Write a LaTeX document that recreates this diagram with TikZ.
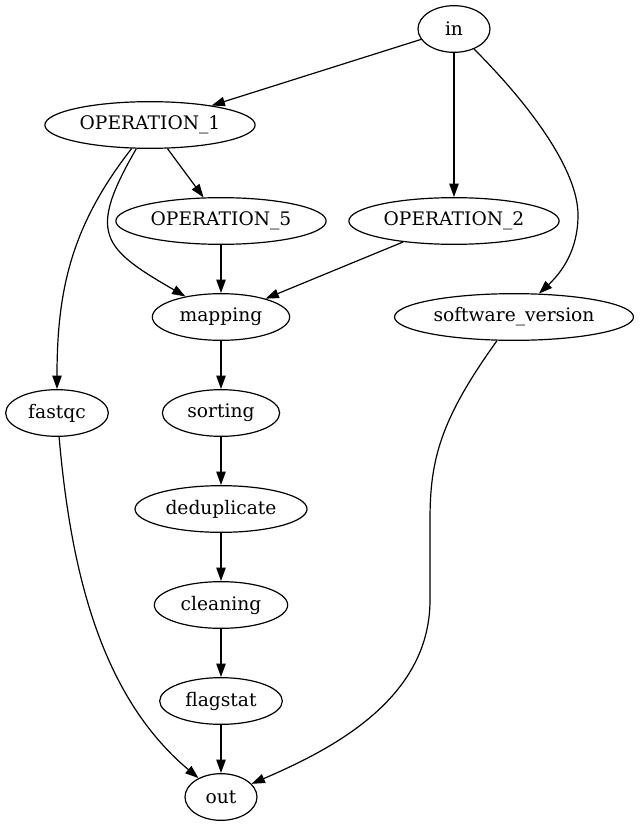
\documentclass[tikz,border=0pt]{standalone}
\usepackage{fontspec}
\setmainfont{DejaVu Serif}
\usetikzlibrary{arrows.meta}
\usetikzlibrary{shapes.geometric}
\pgfdeclarelayer{edgelayer}
\pgfdeclarelayer{nodelayer}
\pgfsetlayers{edgelayer,nodelayer,main}
\tikzstyle{task}=[ellipse,fill=white,draw=black,line width=0.9pt,minimum width=54pt,minimum height=35pt,inner xsep=3pt,inner ysep=0pt,font=\fontsize{14}{16}\selectfont]
\tikzstyle{flow}=[-{Triangle[length=10pt,width=7pt]},draw=black,line width=0.9pt]

\begin{document}
\begin{tikzpicture}[x=0.75pt,y=-0.75pt]
	\useasboundingbox (0,0) rectangle (640,827);
	\begin{pgfonlayer}{nodelayer}
		\node [style=task] (0) at (454, 29) {in};
		\node [style=task, minimum width=157pt] (1) at (150, 125) {OPERATION\_1};
		\node [style=task, minimum width=157pt] (2) at (221, 221) {OPERATION\_5};
		\node [style=task, minimum width=155pt] (3) at (454, 221) {OPERATION\_2};
		\node [style=task, minimum width=103pt] (4) at (221, 317) {mapping};
		\node [style=task, minimum width=179pt] (5) at (514, 317) {software\_version};
		\node [style=task, minimum width=77pt] (6) at (57, 413) {fastqc};
		\node [style=task, minimum width=88pt] (7) at (221, 413) {sorting};
		\node [style=task, minimum width=129pt] (8) at (221, 509) {deduplicate};
		\node [style=task, minimum width=100pt] (9) at (221, 605) {cleaning};
		\node [style=task, minimum width=92pt] (10) at (221, 701) {flagstat};
		\node [style=task] (11) at (221, 797) {out};
	\end{pgfonlayer}
	\begin{pgfonlayer}{edgelayer}
		\draw [style=flow] (0) to (1);
		\draw [style=flow] (0) to (3);
		% wide swing on the right
		\draw [style=flow] (0) .. controls (530, 105) and (578, 170) .. (578, 215) .. controls (578, 250) and (562, 272) .. (5);
		\draw [style=flow] (1) to (2);
		\draw [style=flow, out=-120, in=150, looseness=1.6] (1) to (4);
		\draw [style=flow, out=-128, in=90, looseness=1] (1) to (6);
		\draw [style=flow] (2) to (4);
		\draw [style=flow] (3) to (4);
		\draw [style=flow] (4) to (7);
		\draw [style=flow] (7) to (8);
		\draw [style=flow] (8) to (9);
		\draw [style=flow] (9) to (10);
		\draw [style=flow] (10) to (11);
		\draw [style=flow, out=-85, in=140, looseness=0.9] (6) to (11);
		% long way down on the right
		\draw [style=flow] (5) .. controls (440, 420) and (430, 460) .. (430, 520) -- (430, 600) .. controls (430, 700) and (330, 750) .. (11);
	\end{pgfonlayer}
\end{tikzpicture}
\end{document}
